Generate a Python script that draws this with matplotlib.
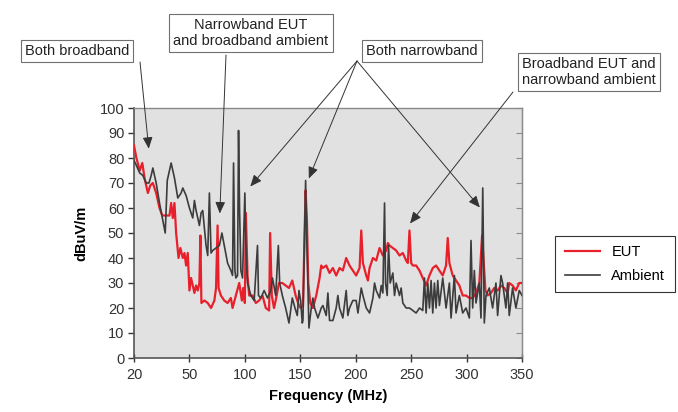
import numpy as np
import matplotlib.pyplot as plt

plt.rcParams['font.family'] = ['Liberation Sans', 'DejaVu Sans']

# category axis of the original chart: labels equally spaced
tick_freqs = [20, 50, 100, 150, 200, 250, 300, 350]

# EUT (MHz, dBuV/m)
eut_freq = [20, 21.3, 23.1, 24.5, 25.7, 27.5, 28.8, 30.2, 32.0, 33.8, 35.3, 37.4, 39.2, 40.1, 41.0,
            41.9, 42.8, 44.1, 45.1, 46.4, 47.3, 48.2, 49.1, 50, 51.5, 53.0, 54.5, 56.0, 57.5, 59.0,
            59.9, 60.8, 63.5, 66.5, 69.5, 72.5, 74.0, 75.4, 76.3, 78.4, 81.4, 84.4, 87.4, 88.9, 91.9,
            94.9, 97.3, 98.5, 100, 100.9, 102.4, 103.9, 106.9, 109.9, 112.9, 115.9, 118.9, 121.9,
            122.8, 124.3, 126.3, 127.8, 130.8, 133.8, 136.8, 139.8, 142.8, 145.8, 148.8, 150.3,
            152.4, 154.8, 156.0, 157.2, 159.0, 161.4, 164.4, 167.4, 168.9, 170.4, 173.4, 176.4,
            179.4, 182.4, 185.4, 188.4, 191.4, 194.4, 197.4, 200.4, 203.5, 205.0, 206.5, 209.5,
            211.0, 212.5, 215.5, 218.5, 221.5, 224.5, 227.5, 229.0, 230.5, 233.5, 236.5, 239.5,
            242.5, 245.5, 247.0, 248.5, 250.0, 251.5, 254.5, 257.5, 260.5, 263.5, 266.5, 269.5,
            272.5, 275.5, 278.5, 281.5, 283.0, 284.5, 287.5, 290.5, 293.5, 296.5, 299.5, 302.5,
            305.5, 308.5, 311.5, 314.0, 315.5, 317.0, 319.0, 322.0, 325.0, 328.0, 331.0, 334.0,
            337.0, 338.5, 341.5, 344.5, 347.5, 350]
eut_level = [85, 80, 75, 78, 72, 66, 69, 70, 66, 60, 57, 57, 57, 62, 56,
             62, 50, 40, 44, 40, 42, 37, 42, 27, 32, 29, 26, 29, 27, 30,
             49, 22, 23, 22, 20, 23, 28, 53, 28, 25, 23, 22, 24, 20, 25,
             30, 23, 28, 22, 58, 33, 25, 25, 22, 23, 25, 20, 19,
             50, 25, 20, 23, 30, 30, 29, 28, 31, 25, 21, 20,
             21, 67, 55, 30, 22, 20, 25, 32, 37, 36, 37, 34,
             36, 33, 36, 35, 40, 37, 35, 33, 36, 51, 38, 33,
             31, 36, 40, 39, 44, 41, 43, 46, 45, 44, 43, 41,
             42, 39, 38, 51, 38, 37, 37, 35, 32, 29, 33, 36,
             37, 35, 33, 37, 48, 38, 33, 31, 29, 25, 25, 24,
             24, 26, 30, 49, 38, 27, 25, 26, 28, 27, 29, 28,
             26, 30, 29, 27, 30, 30]

# Ambient (MHz, dBuV/m)
amb_freq = [20, 21.3, 23.1, 24.8, 26.6, 28.1, 29.3, 30.2, 32.0, 33.8, 35.6, 36.9, 38.0, 39.2, 40.1,
            41.9, 43.7, 45.5, 46.4, 48.2, 50, 53, 54.5, 56, 59, 60.5, 62, 63.5, 65, 66.5, 68,
            69.5, 71, 74, 77, 79.3, 81.4, 84.4, 87.4, 88.9, 89.8, 91, 91.9, 93.4, 94.3, 95.2,
            96.4, 97.9, 100, 100.9, 102.4, 105.4, 108.4, 111.4, 112.3, 114.4, 117.4, 120.4,
            123.4, 124.9, 127.8, 130.2, 131.4, 133.8, 136.8, 139.8, 142.8, 145.2, 147.3, 148.8,
            150.3, 151.8, 152.4, 154.8, 156, 157.8, 159.9, 161.4, 162.9, 165.9, 168.9, 170.4,
            173.4, 174.9, 176.4, 179.4, 182.4, 183.9, 185.4, 188.4, 191.4, 192.9, 194.4, 197.4,
            200.4, 202, 205, 206.5, 209.5, 212.5, 215.5, 217, 218.5, 221.5, 223, 224.5, 226,
            226.9, 228.4, 229.6, 231.1, 233.5, 235, 236.5, 239.5, 241, 242.5, 245.5, 248.5,
            251.5, 254.5, 257.5, 260.5, 262, 263.5, 265, 266.5, 268, 269.5, 271, 272.5, 274,
            275.5, 278.5, 281.5, 284.5, 286, 289, 290.5, 293.5, 296.5, 299.5, 302.5, 304,
            305.5, 307, 308.5, 311.5, 313, 314.6, 316, 317.5, 320.5, 323.5, 326.5, 328, 329.5,
            331, 332.5, 335.5, 337, 338.5, 341.5, 344.5, 347.5, 350]
amb_level = [79, 77, 74, 73, 70, 70, 73, 76, 70, 62, 55, 50, 71, 75, 78,
             72, 64, 66, 68, 65, 60, 56, 63, 59, 53, 58, 59, 52, 45, 41, 66,
             42, 43, 44, 45, 50, 45, 38, 35, 33, 78, 35, 32, 33, 91, 60,
             35, 32, 66, 45, 30, 25, 23, 45, 25, 24, 27, 24,
             27, 32, 25, 45, 30, 25, 20, 14, 24, 20, 17, 27,
             23, 14, 15, 71, 45, 12, 20, 24, 20, 16, 20, 21,
             17, 26, 15, 15, 20, 25, 20, 16, 27, 17, 20, 23,
             23, 18, 28, 25, 20, 18, 24, 30, 27, 24, 29, 26, 62,
             30, 25, 45, 30, 34, 25, 30, 25, 28, 22, 20, 20,
             19, 18, 20, 19, 32, 18, 30, 20, 31, 18, 30, 20, 31,
             21, 32, 20, 30, 16, 33, 18, 25, 18, 20, 16, 47,
             20, 35, 22, 30, 16, 68, 14, 25, 28, 20, 30, 17, 25,
             33, 30, 20, 30, 17, 28, 20, 27, 25]


def to_pos(freq):
    return np.interp(freq, tick_freqs, np.arange(len(tick_freqs)))


W, H = 678, 412
fig = plt.figure(figsize=(W / 100, H / 100), dpi=100)
ax = fig.add_axes([134 / W, 1 - 358 / H, 388 / W, 250 / H])
ax.set_facecolor('#e1e1e1')

ax.plot(to_pos(eut_freq), eut_level, color='#e8202c', lw=1.6, label='EUT', zorder=3)
ax.plot(to_pos(amb_freq), amb_level, color='#3c3c3c', lw=1.2, label='Ambient', zorder=4)

ax.set_xlim(0, len(tick_freqs) - 1)
ax.set_ylim(0, 100)
ax.set_xticks(np.arange(len(tick_freqs)))
ax.set_xticklabels([str(f) for f in tick_freqs])
ax.set_yticks(np.arange(0, 101, 10))
ax.tick_params(axis='x', direction='inout', length=6, width=1, colors='#333333',
               labelsize=10.5, pad=4)
ax.tick_params(axis='y', direction='out', length=4, width=1, colors='#333333',
               labelsize=10.5, pad=3)
right = ax.secondary_yaxis('right')
right.set_yticks(np.arange(0, 101, 10))
right.tick_params(direction='in', length=4, width=0.8, colors='#8a8a8a', labelright=False)
right.spines['right'].set_color('#8a8a8a')
for s in ['left', 'bottom']:
    ax.spines[s].set_color('#555555')
    ax.spines[s].set_linewidth(1.2)
for s in ['top', 'right']:
    ax.spines[s].set_color('#8a8a8a')
    ax.spines[s].set_linewidth(1.0)

ax.set_xlabel('Frequency (MHz)', fontsize=10.5, fontweight='bold', labelpad=5)
ax.set_ylabel('dBuV/m', fontsize=10.5, fontweight='bold', labelpad=8)

leg = ax.legend(loc='center', bbox_to_anchor=(615 / W, 1 - 264 / H), bbox_transform=fig.transFigure,
                fancybox=False, edgecolor='#333333', fontsize=10.5, handlelength=2.4,
                handletextpad=0.8, labelspacing=0.65, borderpad=0.65, borderaxespad=0,
                framealpha=1)
leg.get_frame().set_linewidth(0.8)

# annotation boxes
box = dict(boxstyle='square,pad=0.28', fc='white', ec='#707070', lw=0.8)
notes = [
    ('Both broadband', 77, 51),
    ('Narrowband EUT\nand broadband ambient', 251, 33),
    ('Both narrowband', 422, 51),
    ('Broadband EUT and\nnarrowband ambient', 589, 72),
]
for txt, x, y in notes:
    fig.text(x / W, 1 - y / H, txt, ha='center', va='center', fontsize=10.5,
             color='#222222', bbox=box, linespacing=1.25)

# arrows: start (figure px), tip (MHz, dBuV/m)
arrows = [
    ((140, 62), (28, 83.7)),
    ((226, 55), (77.4, 57.8)),
    ((357, 61), (104.9, 68.6)),
    ((357, 61), (157.7, 71.8)),
    ((357, 61), (312, 60.2)),
    ((513, 92), (249, 53.8)),
]
for (sx, sy), (f, v) in arrows:
    ax.annotate('', xy=(to_pos(f), v), xycoords='data',
                xytext=(sx / W, 1 - sy / H), textcoords='figure fraction',
                arrowprops=dict(arrowstyle='-|>,head_length=0.7,head_width=0.3',
                                color='#333333', lw=0.7, shrinkA=0, shrinkB=0),
                annotation_clip=False, zorder=6)

fig.savefig('out.png', dpi=100)
